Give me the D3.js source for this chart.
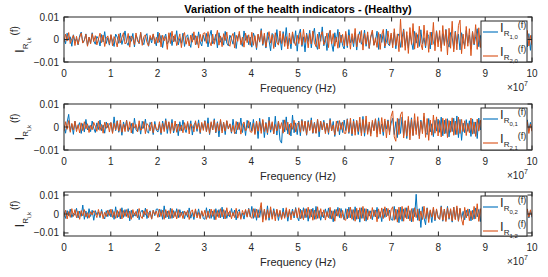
<!DOCTYPE html>
<html lang="en">
<head>
<meta charset="UTF-8" />
<title>Variation of the health indicators - (Healthy)</title>
<style>
  body { margin: 0; background: #fff; }
  svg { display: block; font-family: "Liberation Sans", Arial, sans-serif; }
  .tick-label { font-size: 10px; fill: #262626; }
  .axis-label { font-size: 11px; fill: #262626; }
  .title { font-size: 11px; font-weight: bold; fill: #000; }
  .frame { fill: none; stroke: #262626; stroke-width: 1; }
</style>
</head>
<body>
<svg width="548" height="277"></svg>
<script src="https://d3js.org/d3.v7.min.js"></script>
<script>
// frequency axis ticks, in units of 1e7 Hz
const freqTicks = [0, 1, 2, 3, 4, 5, 6, 7, 8, 9, 10];
const yTicks = [-0.01, 0, 0.01];
const legendIdx = [["1,0", "2,0"], ["0,1", "2,1"], ["0,2", "1,2"]];

// health indicator samples, units of 1e-4, evenly spaced over 0..1e8 Hz (30 per 1e7)
const ir10 = [6,-19,28,-3,12,-30,21,-9,4,-24,17,33,-14,-2,25,-27,10,-16,30,-7,-21,14,3,-29,22,-11,35,-18,8,-25,
  19,-6,-31,24,11,-17,29,-22,5,38,-13,-26,16,-8,27,-33,20,2,-19,31,-10,-23,14,26,-30,9,-15,22,-4,-28,
  33,-12,18,-36,7,24,-20,-5,30,-27,15,-9,39,-24,4,-17,28,-31,12,21,-14,-35,26,-2,17,-22,34,-11,-29,20,
  -8,27,-33,15,41,-19,-6,23,-37,30,-12,9,-25,36,-16,-28,19,3,-21,32,-40,14,25,-10,-30,38,-4,18,-23,11,
  -34,29,7,-45,22,-12,48,-26,15,-38,31,-5,-50,27,18,-33,44,-20,9,-47,35,-14,53,-29,6,-41,25,-17,39,-52,
  21,46,-31,12,-55,28,-9,41,-37,17,50,-24,-44,33,-8,56,-28,14,-49,24,38,-18,-53,30,-11,45,-35,20,-27,-42,
  26,-36,44,-15,8,-32,29,-47,16,35,-21,-9,42,-30,19,-40,11,33,-25,-6,37,-44,24,-13,30,-38,46,-19,-28,21,
  -23,32,-41,13,25,-35,7,47,-27,18,-39,29,-10,-45,36,-16,22,-31,43,-20,8,-37,28,14,-42,33,-18,-26,39,-12,
  17,-38,26,-22,45,-13,-34,31,9,-41,37,-19,24,-46,30,-7,-28,40,-15,20,-43,35,-24,12,48,-32,18,-39,27,-16,
  29,-51,57,-18,36,-59,43,-10,61,-37,-24,52,-49,28,14,-56,47,-30,63,-22,38,-54,45,-15,-41,58,-33,26,-48,20];
const ir20 = [-12,24,-7,31,-18,3,19,-27,14,-22,8,29,-16,-5,23,-30,11,-19,26,-9,17,-24,2,28,-14,20,-31,6,16,-21,
  22,-28,13,-4,-33,25,-15,9,30,-20,-11,27,-34,16,5,-23,29,-8,-17,32,-26,12,21,-13,-29,18,-2,25,-19,10,
  -15,28,-33,19,-6,13,-44,30,-18,37,-11,22,-27,-3,25,-36,14,31,-21,8,-29,20,-12,34,-24,16,-38,23,-9,27,
  30,-17,35,-10,-28,24,-21,7,41,-25,16,-32,26,-5,33,-19,-30,12,27,-38,19,-8,36,-23,11,-34,28,-14,21,-26,
  32,-26,17,-37,24,-9,40,-21,28,-33,6,35,-16,22,-40,30,-12,-25,38,-18,26,-31,13,-42,29,-20,34,-7,-27,19,
  -18,31,-25,45,-13,22,-37,27,-20,38,-15,-32,24,-42,18,35,-23,-9,29,-36,42,-19,26,-30,11,-39,33,-14,23,-28,
  36,-28,19,-43,26,-17,49,-33,23,-14,40,-47,27,-21,34,-39,15,42,-26,8,-35,31,-44,22,45,-30,-12,38,-24,29,
  -37,48,-27,25,-54,91,-35,43,-48,35,-62,53,-22,71,-43,30,-37,59,-18,-46,64,-29,40,-57,33,-24,76,-50,38,-33,
  40,-53,62,-27,43,-69,50,-39,81,-55,34,-46,62,86,-63,24,-41,58,-30,48,-72,35,-20,66,-44,52,-36,29,-58,45,
  42,-48,54,-32,46,-59,43,-28,51,-37,36,-52,39,-27,23,-44,32,-18,37,-25,47,-35,20,-42,31,-22,40,-29,18,-24];
const ir01 = [8,-27,21,55,-17,12,-32,25,-9,3,19,-28,15,-22,33,-13,6,-20,26,-5,-24,18,-11,30,-16,9,-27,22,-3,14,
  18,-25,44,-16,28,-23,13,-36,22,-8,30,-20,-4,16,-29,38,-12,-21,11,-31,25,-6,34,-18,-27,20,7,-33,24,-14,
  -22,13,-33,26,-10,36,-28,20,-18,33,-26,2,13,-38,23,-16,30,-6,-24,18,-12,27,-35,9,21,-19,31,-29,15,-7,
  28,-20,40,-33,18,-13,36,-26,23,-43,28,-16,20,-33,26,-8,12,-27,34,-19,-30,22,-11,39,-24,15,-37,29,-5,21,
  -18,33,-28,23,-50,38,-16,28,-46,20,-33,43,-23,16,-28,47,-35,25,-57,-70,31,-21,44,-30,12,-39,52,-25,18,-33,
  26,-38,33,-18,23,-36,28,-13,40,-28,20,-26,33,-43,23,-11,29,-21,16,-32,37,-15,24,-41,10,27,-34,19,-24,30,
  -16,36,-28,23,-38,33,-20,28,-33,18,-26,46,-40,28,-23,11,-29,21,-14,35,-27,40,-19,13,-37,26,-9,31,-22,17,
  38,-33,23,-46,36,-28,43,-38,26,-50,33,-20,40,-36,28,-17,24,-39,30,-11,45,-25,-33,37,-21,14,-42,29,-18,34,
  -23,43,-38,30,-28,36,-43,26,-20,38,-33,48,-46,33,-58,17,-25,32,-19,27,-41,35,-29,22,-50,39,-13,28,-36,24,
  43,-28,53,-38,23,-33,46,-26,33,-48,38,-23,28,-36,18,-29,21,-15,26,-11,34,-22,17,-30,24,-19,31,-14,20,-17];
const ir21 = [-18,23,-10,28,-23,16,-13,26,-20,10,-26,18,-16,23,-8,14,-24,7,-12,20,4,-19,25,-15,11,-27,21,-6,17,-22,
  20,-28,16,-13,26,-18,30,-23,13,-20,28,-16,23,-26,18,-5,11,-21,27,-14,-8,24,-29,15,6,-17,22,-25,12,-10,
  -13,23,-26,16,-20,28,-10,23,-28,18,-16,26,-23,13,-18,8,-25,19,-11,24,-30,14,3,-21,27,-9,17,-24,20,-15,
  26,-20,16,-28,23,-13,30,-23,18,-16,33,-26,20,-18,28,-9,14,-22,7,-29,24,-12,19,-31,10,22,-17,-4,27,-21,
  -23,16,-33,26,-18,23,-28,33,-20,16,-26,28,-13,23,-30,11,-17,25,-8,19,-27,31,-14,21,-35,17,-10,29,-22,13,
  20,-23,28,-18,26,-33,23,-16,30,-26,18,-28,33,-20,26,-13,21,-29,15,-24,31,-17,9,-34,25,-19,28,-11,22,-27,
  -28,33,-23,38,-30,26,-36,28,-20,43,-38,33,-26,48,-32,22,-40,29,-17,36,-44,25,-31,41,-21,35,-47,27,-34,46,
  70,-43,-62,38,-33,53,66,-48,28,-40,46,-56,33,-38,58,-33,45,-51,24,-29,61,-45,37,-58,30,-36,52,-27,44,-39,
  28,-43,38,-30,36,-46,28,-23,40,-36,26,-33,43,-28,33,-20,27,-37,16,-25,39,-31,22,-41,34,-18,30,-26,21,-32,
  -26,38,-33,23,-40,36,-28,43,-23,33,-38,28,-26,33,-18,24,-30,14,-21,17,29,-24,19,-33,26,-15,23,-28,12,-19];
const ir02 = [13,-23,18,-10,26,-18,5,-7,30,-21,15,-12,47,-28,16,-23,28,-13,20,-33,18,-4,11,-19,24,-8,-26,17,-14,22,
  -16,23,-28,38,-20,13,-26,33,-18,23,-13,28,-36,20,-18,6,-12,25,-30,9,21,-15,31,-24,4,17,-27,19,-9,26,
  26,-16,23,-28,43,-20,16,-26,30,-23,18,-13,28,-20,23,-7,15,-25,11,-17,32,-22,8,-29,20,-11,27,-18,13,-24,
  -28,33,-18,26,-23,16,-30,28,-13,23,-20,36,-26,18,-23,8,-16,29,-10,21,-31,14,24,-19,5,-27,20,-12,30,-15,
  40,-23,28,-33,23,-18,36,-28,20,-26,43,-33,23,-18,28,-12,19,-34,13,-25,31,-17,22,-38,15,-9,26,-21,34,-14,
  -36,26,-23,33,-20,28,-38,23,-16,30,-28,40,-23,18,-33,10,-21,27,-14,32,-25,17,-41,24,-11,35,-19,29,-8,-30,
  28,-26,36,-20,23,-33,38,-28,20,-43,33,-23,28,-38,26,-11,17,-30,22,-15,35,-24,12,-40,27,-18,31,-9,21,-29,
  -33,40,-28,23,-46,36,-38,27,-19,33,-25,18,-42,30,-14,104,-33,28,-71,38,-20,-57,33,-25,17,-45,29,-36,22,-16,
  -28,43,-38,26,-33,40,-28,23,-43,36,-26,33,-38,28,-23,14,-31,20,-11,26,-36,19,-27,32,-15,24,-40,30,-18,21,
  36,-33,26,-40,28,-23,38,-30,23,-36,33,-28,26,-33,20,-17,29,-13,24,-19,31,-25,16,-34,22,-10,27,-21,14,-18];
const ir12 = [-16,20,-26,13,-18,28,-13,23,-20,16,-28,18,-10,23,-16,7,-22,12,-5,17,4,-19,24,-11,15,-25,9,-14,21,-8,
  26,-18,13,-23,20,-16,28,-26,18,-13,23,-20,16,-28,23,-9,14,-21,29,-11,-24,17,-6,25,-19,12,-27,20,-3,15,
  -18,26,-13,20,-28,23,-16,18,-23,28,-20,13,-26,23,-18,10,-24,16,-7,19,-29,11,22,-15,27,-21,8,-25,17,-12,
  20,-28,16,-23,26,-13,23,-30,18,-20,28,-16,23,-26,33,-11,17,-25,8,-19,30,-22,12,-28,19,-6,24,-17,27,-14,
  -23,28,-18,26,-20,14,60,-43,26,-33,23,-20,38,-28,18,-36,26,-14,20,-29,11,-23,33,-17,25,-31,15,-9,28,-21,
  33,-26,20,-30,28,-18,36,-23,26,-33,20,-28,38,-23,28,-15,22,-32,13,-20,35,-27,17,-38,24,-12,30,-22,19,-29,
  -33,26,-20,36,-28,23,-38,30,-26,33,-23,40,-36,28,-30,17,-25,34,-14,21,-41,27,-18,32,-24,38,-15,29,-35,22,
  38,-33,26,-43,36,-28,40,-38,33,-26,43,-36,28,-40,33,-19,25,-37,16,-29,41,-24,31,-45,22,-16,36,-30,27,-21,
  -28,38,-33,26,-40,33,-23,28,-37,36,-30,43,-38,31,-28,-59,35,-21,27,-35,17,-30,40,-25,54,-39,28,-45,32,-19,
  40,-33,26,-38,30,-23,36,-28,23,-33,28,-26,33,-23,18,-27,21,-14,25,-18,32,-24,15,-31,20,-9,26,-17,22,-13];

const blue = "#0072BD", orange = "#D95319", ink = "#262626";
const svg = d3.select("svg");
const x = d3.scaleLinear().domain([0, 1e8]).range([64, 532]);

const panels = [
  { top: 17, bottom: 62, yMax: 0.01, series: [ir10, ir20], idx: legendIdx[0] },
  { top: 104, bottom: 150, yMax: 0.01, series: [ir01, ir21], idx: legendIdx[1] },
  { top: 192, bottom: 236, yMax: 0.0116, series: [ir02, ir12], idx: legendIdx[2] }
];

svg.append("text").attr("class", "title")
  .attr("x", 298).attr("y", 13).attr("text-anchor", "middle")
  .text("Variation of the health indicators - (Healthy)");

panels.forEach((p, pi) => {
  const y = d3.scaleLinear().domain([-p.yMax, p.yMax]).range([p.bottom, p.top]);
  const g = svg.append("g");
  const clipId = "clip" + pi;
  svg.append("clipPath").attr("id", clipId).append("rect")
    .attr("x", x(0)).attr("y", p.top).attr("width", x(1e8) - x(0)).attr("height", p.bottom - p.top);

  const line = d3.line()
    .x((d, i, arr) => x(i * 1e8 / (arr.length - 1)))
    .y(d => y(d * 1e-4));

  p.series.forEach((s, si) => {
    g.append("path")
      .attr("clip-path", `url(#${clipId})`)
      .attr("d", line(s))
      .attr("fill", "none")
      .attr("stroke", si === 0 ? blue : orange)
      .attr("stroke-width", 1);
  });

  // ticks point inward on all four sides
  const tl = 4.5;
  freqTicks.forEach(t => {
    const tx = x(t * 1e7);
    g.append("line").attr("x1", tx).attr("x2", tx).attr("y1", p.bottom).attr("y2", p.bottom - tl).attr("stroke", ink);
    g.append("line").attr("x1", tx).attr("x2", tx).attr("y1", p.top).attr("y2", p.top + tl).attr("stroke", ink);
    g.append("text").attr("class", "tick-label")
      .attr("x", tx).attr("y", p.bottom + 15).attr("text-anchor", "middle").text(t);
  });
  yTicks.forEach(t => {
    const ty = y(t);
    g.append("line").attr("x1", x(0)).attr("x2", x(0) + tl).attr("y1", ty).attr("y2", ty).attr("stroke", ink);
    g.append("line").attr("x1", x(1e8)).attr("x2", x(1e8) - tl).attr("y1", ty).attr("y2", ty).attr("stroke", ink);
    g.append("text").attr("class", "tick-label")
      .attr("x", 59).attr("y", ty + 3.5).attr("text-anchor", "end").text(t === 0 ? "0" : d3.format(".2f")(t));
  });

  g.append("rect").attr("class", "frame")
    .attr("x", x(0)).attr("y", p.top).attr("width", x(1e8) - x(0)).attr("height", p.bottom - p.top);

  // x label and exponent
  g.append("text").attr("class", "axis-label")
    .attr("x", 298).attr("y", p.bottom + 30).attr("text-anchor", "middle").text("Frequency (Hz)");
  const ex = g.append("text").attr("class", "tick-label").attr("x", 507).attr("y", p.bottom + 29);
  ex.append("tspan").text("\u00d710");
  ex.append("tspan").attr("dy", -5).style("font-size", "7px").text("7");

  // y label
  const cy = (p.top + p.bottom) / 2;
  const yl = g.append("text").attr("fill", ink)
    .attr("transform", `translate(24,${cy}) rotate(-90)`).attr("text-anchor", "middle");
  yl.append("tspan").style("font-size", "13px").text("I");
  yl.append("tspan").style("font-size", "8px").attr("dy", 4).text("R");
  yl.append("tspan").style("font-size", "6px").attr("dy", 3).text("i,k");
  yl.append("tspan").style("font-size", "10px").attr("dy", -13).attr("dx", 2).text("(f)");

  // legend
  const lx = 481, lw = 46, lt = p.top + 4;
  g.append("rect").attr("x", lx).attr("y", lt).attr("width", lw).attr("height", p.bottom - lt)
    .attr("fill", "#fff").attr("stroke", ink).attr("stroke-width", 1);
  p.idx.forEach((lab, li) => {
    const base = lt + 11 + li * 24;
    g.append("line").attr("x1", lx + 2).attr("x2", lx + 17)
      .attr("y1", base).attr("y2", base)
      .attr("stroke", li === 0 ? blue : orange).attr("stroke-width", 1.5).attr("stroke-opacity", 0.75);
    const t = g.append("text").attr("fill", ink).attr("x", lx + 19).attr("y", base);
    t.append("tspan").style("font-size", "13px").text("I");
    t.append("tspan").style("font-size", "8px").attr("dy", 4).text("R");
    t.append("tspan").style("font-size", "6px").attr("dy", 3).text(lab);
    t.append("tspan").style("font-size", "9px").attr("dy", -11).attr("dx", 0).text("(f)");
  });
});
</script>
</body>
</html>
